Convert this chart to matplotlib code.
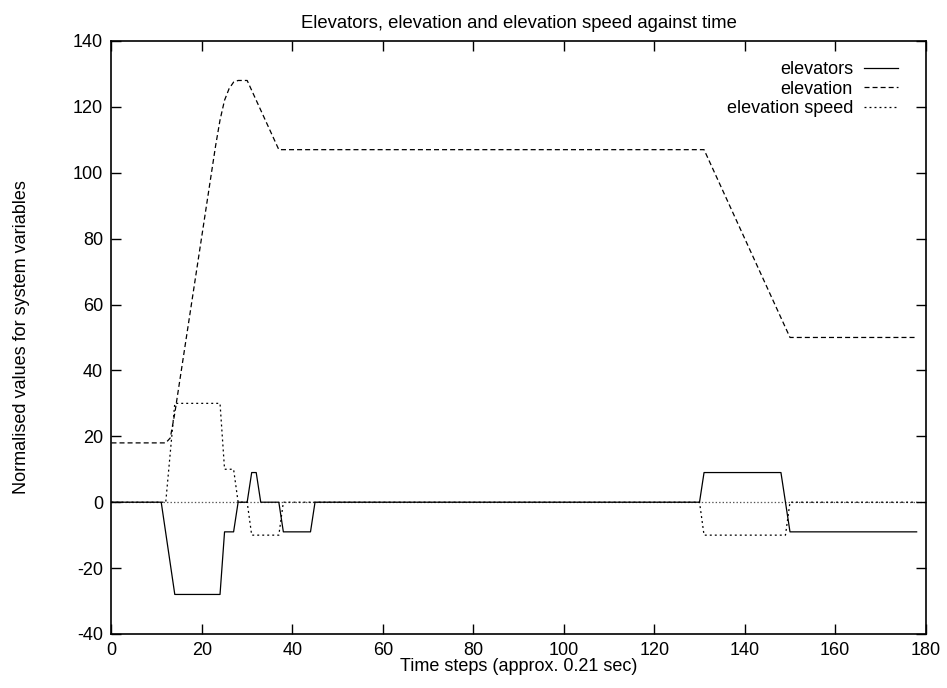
import matplotlib
matplotlib.use('Agg')
import matplotlib.pyplot as plt

plt.rcParams['font.family'] = ['Liberation Sans', 'DejaVu Sans']
plt.rcParams['lines.scale_dashes'] = False
plt.rcParams['axes.unicode_minus'] = False

# elevators (solid)
t_elev = [0, 11, 14, 24, 25, 27, 28, 30, 31, 32, 33, 37, 38, 44, 45, 130, 131, 148, 150, 178]
elevators = [0, 0, -28, -28, -9, -9, 0, 0, 9, 9, 0, 0, -9, -9, 0, 0, 9, 9, -9, -9]

# elevation (dashed)
t_alt = [0, 12, 13, 14, 23, 24, 25, 26, 27, 28, 30, 37, 131, 150, 178]
elevation = [18, 18, 19.5, 27, 108, 116, 122, 125.5, 127.5, 128, 128, 107, 107, 50, 50]

# elevation speed (dotted)
t_spd = [0, 12, 14, 24, 25, 27, 28, 30, 31, 37, 38, 130, 131, 149, 150, 178]
speed = [0, 0, 30, 30, 10, 10, 0, 0, -10, -10, 0, 0, -10, -10, 0, 0]

fig = plt.figure(figsize=(9.47, 6.88), dpi=100)
ax = fig.add_axes([0.1177, 0.0785, 0.8598, 0.862])

ax.axhline(0, color='#555555', lw=0.9, ls=(0, (1.0, 1.5)), zorder=1)
ax.plot(t_elev, elevators, color='black', lw=0.9, ls='-', label='elevators', zorder=3)
ax.plot(t_alt, elevation, color='black', lw=0.9, ls=(0, (3.6, 2.2)), label='elevation', zorder=3)
ax.plot(t_spd, speed, color='black', lw=0.9, ls=(0, (1.4, 2.2)), label='elevation speed', zorder=3)

ax.set_xlim(0, 180)
ax.set_ylim(-40, 140)
ax.set_xticks(range(0, 181, 20))
ax.set_yticks(range(-40, 141, 20))
ax.tick_params(direction='in', length=7, width=1, top=True, right=True, labelsize=13, pad=6)
for s in ax.spines.values():
    s.set_linewidth(1.2)

ax.set_title('Elevators, elevation and elevation speed against time', fontsize=13.3, pad=9)
ax.set_xlabel('Time steps (approx. 0.21 sec)', fontsize=13, labelpad=-1)
ax.set_ylabel('Normalised values for system variables', fontsize=13, labelpad=31)

ax.legend(loc='upper right', frameon=False, markerfirst=False, fontsize=13,
          handlelength=1.9, handletextpad=0.6, labelspacing=0.13,
          borderaxespad=0.0, bbox_to_anchor=(0.975, 0.978))

fig.savefig('out.png', dpi=100)
